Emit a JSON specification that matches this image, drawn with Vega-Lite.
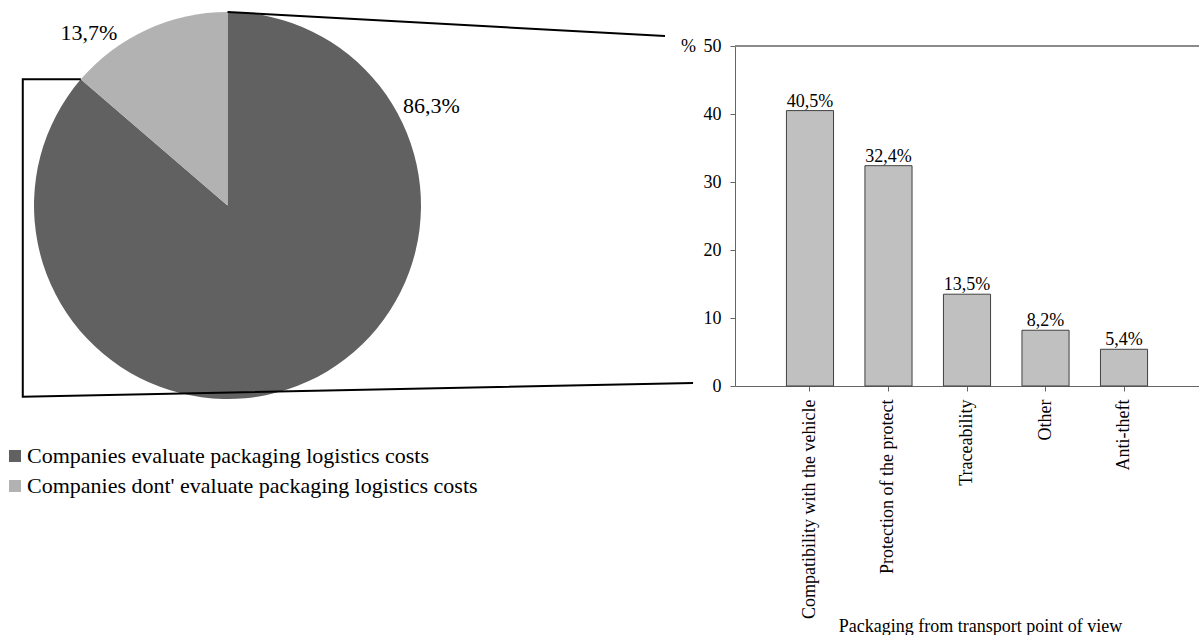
{
  "$schema": "https://vega.github.io/schema/vega-lite/v6.json",
  "padding": {"left": 0, "top": 8, "right": 0, "bottom": 0},
  "bounds": "flush",
  "spacing": 279,
  "config": {
    "view": {"stroke": null},
    "font": "Liberation Serif",
    "text": {"font": "Liberation Serif", "color": "#000"},
    "axis": {"labelFont": "Liberation Serif", "titleFont": "Liberation Serif", "labelColor": "#000", "titleColor": "#000", "titleFontWeight": "normal", "domainColor": "#666", "tickColor": "#666", "grid": false}
  },
  "hconcat": [
    {
      "width": 456,
      "height": 340,
      "data": {"values": [
        {"group": "Companies evaluate packaging logistics costs", "share": 86.3, "label": "86,3%"},
        {"group": "Companies dont' evaluate packaging logistics costs", "share": 13.7, "label": "13,7%"}
      ]},
      "layer": [
        {
          "mark": {"type": "arc", "radius": 193.5, "stroke": null},
          "encoding": {
            "x": {"datum": 0, "type": "quantitative", "scale": {"domain": [-117.57, 118.09], "nice": false, "zero": false}, "axis": null},
            "y": {"datum": 0, "type": "quantitative", "scale": {"domain": [-93.28, 82.43], "nice": false, "zero": false}, "axis": null},
            "theta": {"field": "share", "type": "quantitative", "stack": true},
            "order": {"field": "share", "sort": "descending"},
            "color": {
              "field": "group", "type": "nominal",
              "scale": {"domain": ["Companies evaluate packaging logistics costs", "Companies dont' evaluate packaging logistics costs"], "range": ["#616161", "#b2b2b2"]},
              "legend": {"orient": "none", "legendX": 4, "legendY": 399, "title": null, "padding": 0, "symbolType": "square", "symbolSize": 144, "symbolStrokeWidth": 0, "labelFontSize": 22, "labelFont": "Liberation Serif", "labelColor": "#000", "labelLimit": 600, "rowPadding": 8, "labelOffset": 1, "direction": "vertical"}
            }
          }
        },
        {
          "transform": [{"filter": "datum.share == 86.3"}],
          "mark": {"type": "text", "font": "Liberation Serif", "radius": 227, "theta": 1.117, "fontSize": 22, "align": "center", "baseline": "middle"},
          "encoding": {
            "x": {"datum": 0, "type": "quantitative"},
            "y": {"datum": 0, "type": "quantitative"},
            "text": {"field": "label"}
          }
        },
        {
          "transform": [{"filter": "datum.share == 13.7"}],
          "mark": {"type": "text", "font": "Liberation Serif", "radius": 221, "theta": 5.606, "fontSize": 22, "align": "center", "baseline": "middle"},
          "encoding": {
            "x": {"datum": 0, "type": "quantitative"},
            "y": {"datum": 0, "type": "quantitative"},
            "text": {"field": "label"}
          }
        },
        {
          "data": {"values": [
            {"seg": "top", "i": 1, "x": 0, "y": 100},
            {"seg": "top", "i": 2, "x": 226.1, "y": 87.6},
            {"seg": "bracket", "i": 1, "x": -75.8, "y": 65.2},
            {"seg": "bracket", "i": 2, "x": -105.8, "y": 65.2},
            {"seg": "bracket", "i": 3, "x": -105.8, "y": -98.8},
            {"seg": "bracket", "i": 4, "x": 240.6, "y": -91.7}
          ]},
          "mark": {"type": "line", "color": "#000", "strokeWidth": 2, "strokeJoin": "miter", "clip": false},
          "encoding": {
            "x": {"field": "x", "type": "quantitative"},
            "y": {"field": "y", "type": "quantitative"},
            "detail": {"field": "seg"},
            "order": {"field": "i"}
          }
        }
      ]
    },
    {
      "width": 464,
      "height": 340,
      "data": {"values": [
        {"category": "Compatibility with the vehicle", "value": 40.5, "label": "40,5%"},
        {"category": "Protection of the protect", "value": 32.4, "label": "32,4%"},
        {"category": "Traceability", "value": 13.5, "label": "13,5%"},
        {"category": "Other", "value": 8.2, "label": "8,2%"},
        {"category": "Anti-theft", "value": 5.4, "label": "5,4%"}
      ]},
      "encoding": {
        "x": {
          "field": "category", "type": "nominal", "sort": null,
          "scale": {"paddingInner": 0.4, "paddingOuter": 0.655},
          "title": "Packaging from transport point of view",
          "axis": {"labelAngle": -90, "labelFontSize": 18, "tickSize": 5, "labelPadding": 8, "labelLimit": 400, "titleFontSize": 18, "titleX": 245, "titleY": 245, "titleAlign": "center", "titleBaseline": "alphabetic"}
        },
        "y": {
          "field": "value", "type": "quantitative",
          "scale": {"domain": [0, 50], "nice": false},
          "title": "%",
          "axis": {"values": [0, 10, 20, 30, 40, 50], "labelFontSize": 18, "tickSize": 5, "labelPadding": 9, "titleFontSize": 18, "titleAngle": 0, "titleX": -47, "titleY": 0, "titleAlign": "center", "titleBaseline": "middle"}
        }
      },
      "layer": [
        {
          "mark": {"type": "rule", "color": "#888", "strokeWidth": 1},
          "encoding": {"x": null, "y": {"datum": 50, "type": "quantitative"}}
        },
        {
          "mark": {"type": "bar", "fill": "#c0c0c0", "stroke": "#404040", "strokeWidth": 1}
        },
        {
          "mark": {"type": "text", "font": "Liberation Serif", "baseline": "alphabetic", "dy": -4, "fontSize": 18},
          "encoding": {"text": {"field": "label"}}
        }
      ]
    }
  ]
}
